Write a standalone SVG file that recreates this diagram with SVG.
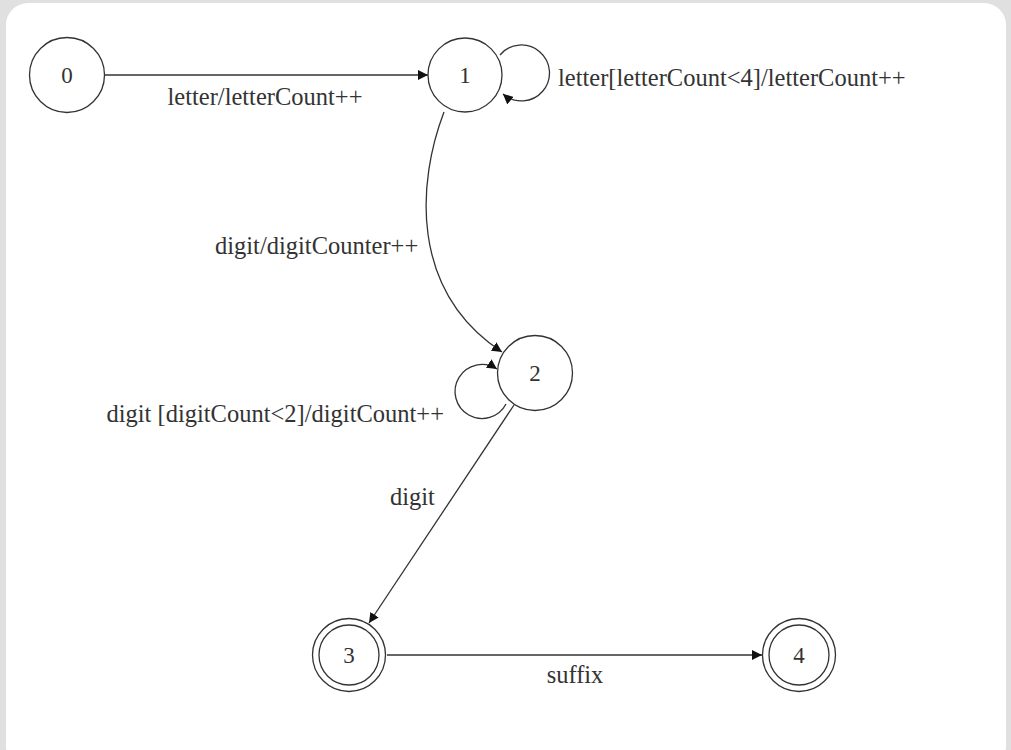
<svg xmlns="http://www.w3.org/2000/svg" width="1011" height="750" viewBox="0 0 1011 750">
<style>
.st{fill:#fff;stroke:#333;stroke-width:1.3}
.e{fill:none;stroke:#333;stroke-width:1.3}
text{font-family:"Liberation Serif","Times New Roman",serif;font-size:24.5px;fill:#333}
.n{font-size:23px}
.c{text-anchor:middle}
.r{text-anchor:end}
</style>
<defs>
<marker id="ah" viewBox="0 0 10 10" refX="10" refY="5" markerWidth="10" markerHeight="10" markerUnits="userSpaceOnUse" orient="auto">
<path d="M0,0 L10,5 L0,10 z" fill="#111"/>
</marker>
</defs>
<rect x="0" y="0" width="1011" height="750" fill="#e0e0e0"/>
<rect x="6" y="3" width="1000" height="765" rx="22" fill="#fff"/>
<g id="connectors">
<path class="e" d="M104,75 L428,75" marker-end="url(#ah)"/>
<text class="c" x="265" y="105">letter/letterCount++</text>
<path class="e" d="M500,55 A28,28 0 1 1 503,94" marker-end="url(#ah)"/>
<text x="558" y="86">letter[letterCount&lt;4]/letterCount++</text>
<path class="e" d="M444,112 C418,180 408,290 502,352" marker-end="url(#ah)"/>
<text x="215" y="254">digit/digitCounter++</text>
<path class="e" d="M506,404 A27,27 0 1 1 497,369" marker-end="url(#ah)"/>
<text class="r" x="444" y="422">digit [digitCount&lt;2]/digitCount++</text>
<path class="e" d="M514,405 L369,623" marker-end="url(#ah)"/>
<text x="390" y="505">digit</text>
<path class="e" d="M387,655 L762,655" marker-end="url(#ah)"/>
<text class="c" x="575" y="683">suffix</text>
</g>
<g id="node0"><circle class="st" cx="67" cy="75" r="37.5"/><text class="c n" x="67" y="83">0</text></g>
<g id="node1"><circle class="st" cx="465" cy="75" r="37"/><text class="c n" x="465" y="83">1</text></g>
<g id="node2"><circle class="st" cx="535" cy="373" r="37.5"/><text class="c n" x="535" y="381">2</text></g>
<g id="node3"><circle class="st" cx="349" cy="655" r="36.5"/><circle class="st" cx="349" cy="655" r="30"/><text class="c n" x="349" y="663">3</text></g>
<g id="node4"><circle class="st" cx="799" cy="655" r="36.5"/><circle class="st" cx="799" cy="655" r="30"/><text class="c n" x="799" y="663">4</text></g>
</svg>
